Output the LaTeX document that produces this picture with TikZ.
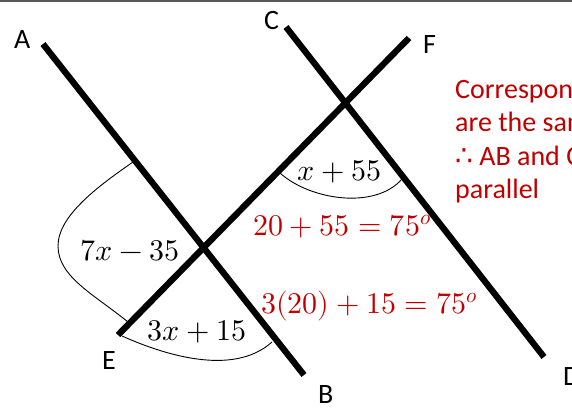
\documentclass[tikz,border=0pt]{standalone}
\usepackage{fontspec}
\usepackage{unicode-math}
\setmainfont{Carlito}
\setmathfont{Latin Modern Math}
\newfontfamily\symfont{DejaVu Sans}
\definecolor{myred}{RGB}{192,0,0}
\begin{document}
\begin{tikzpicture}[x=1pt,y=-1pt,
  thickline/.style={line width=6.3pt},
  arcline/.style={line width=0.9pt},
  ptlabel/.style={font=\fontsize{28}{30}\selectfont, anchor=base west, inner sep=0pt},
  mathlabel/.style={font=\fontsize{30}{32}\selectfont, anchor=base west, inner sep=0pt},
  redlabel/.style={mathlabel, text=myred},
  note/.style={font=\fontsize{28}{33}\selectfont, text=myred, anchor=base west, inner sep=0pt}
]
\useasboundingbox (0,0) rectangle (572,410);
\clip (0,0) rectangle (572,410);
\fill[white] (0,0) rectangle (572,410);
% top rule
\coordinate (tl) at (0,1.2);
\coordinate (tr) at (572,1.2);
\draw[line width=1.5pt, black!65] (tl) -- (tr);

% line end points
\coordinate (A1) at (43,44);
\coordinate (B1) at (304,375);
\coordinate (C1) at (286,27);
\coordinate (D1) at (544,357);
\coordinate (E1) at (118,335);
\coordinate (F1) at (409,38);

\draw[thickline] (A1) -- (B1);
\draw[thickline] (C1) -- (D1);
\draw[thickline] (E1) -- (F1);

% angle arcs
\coordinate (a1s) at (280,173);
\coordinate (a1e) at (402,179);
\draw[arcline] (a1s) .. controls (310,200) and (375,210) .. (a1e);

\coordinate (a2s) at (133,162);
\coordinate (a2m) at (58,246);
\coordinate (a2e) at (128,322);
\draw[arcline] (a2s) .. controls (100,185) and (58,215) .. (a2m)
  .. controls (58,277) and (95,295) .. (a2e);

\coordinate (a3s) at (122,336);
\coordinate (a3e) at (272,342);
\draw[arcline] (a3s) .. controls (160,353) and (232,378) .. (a3e);

% point labels
\node[ptlabel] (lA) at (14,48) {A};
\node[ptlabel] (lC) at (264,29) {C};
\node[ptlabel] (lF) at (423,53) {F};
\node[ptlabel] (lE) at (102,369) {E};
\node[ptlabel] (lB) at (318,403) {B};
\node[ptlabel] (lD) at (563,385) {D};

% angle labels
\node[mathlabel] (m1) at (297,180) {$x+55$};
\node[mathlabel] (m2) at (80,260) {$7x-35$};
\node[mathlabel] (m3) at (147,340) {$3x+15$};
\node[redlabel] (r1) at (253,235) {$20+55=75^{o}$};
\node[redlabel] (r2) at (261,313) {$3(20)+15=75^{o}$};

% note
\node[note] (n1) at (455,98) {Corresponding angles};
\node[note] (n2) at (455,131.5) {are the same};
\node[note] (n3) at (455,165) {{\symfont ∴} AB and CD are};
\node[note] (n4) at (455,198) {parallel};
\end{tikzpicture}
\end{document}
